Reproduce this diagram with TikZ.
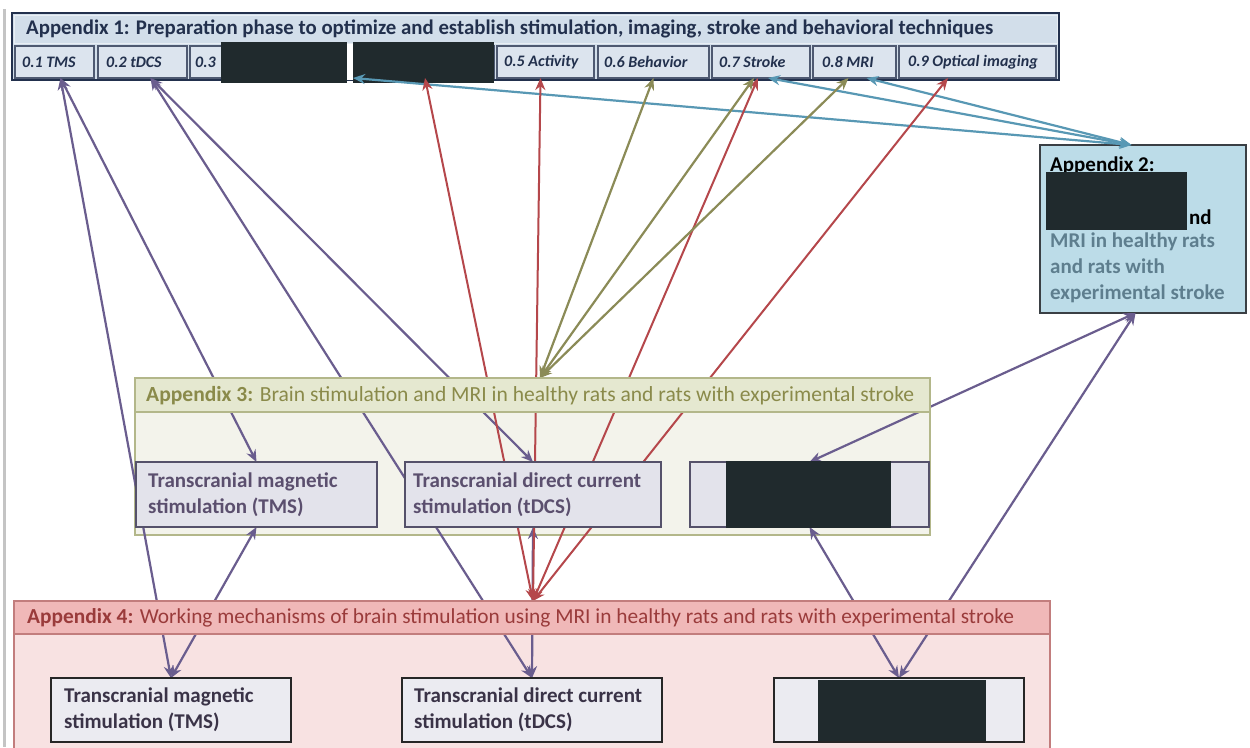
\documentclass[tikz,border=0pt]{standalone}
\usepackage{fontspec}
\setmainfont{Carlito}
\usepackage{graphicx}
\usetikzlibrary{arrows.meta}
\definecolor{navy}{HTML}{22304D}
\definecolor{aonefill}{HTML}{D2DEEA}
\definecolor{subfill}{HTML}{DCE4EE}
\definecolor{atwofill}{HTML}{BCDCE8}
\definecolor{atwodraw}{HTML}{3A3F44}
\definecolor{atwotext}{HTML}{5E7E8E}
\definecolor{athreeborder}{HTML}{B3B78A}
\definecolor{athreetitle}{HTML}{E5E8D0}
\definecolor{athreebody}{HTML}{F3F3EB}
\definecolor{athreetext}{HTML}{8A8A4A}
\definecolor{innerfill}{HTML}{E3E3EB}
\definecolor{innerdraw}{HTML}{55516A}
\definecolor{innertext}{HTML}{5B4F6E}
\definecolor{afourborder}{HTML}{C27D7D}
\definecolor{afourtitle}{HTML}{F0B8B8}
\definecolor{afourbody}{HTML}{F8E2E2}
\definecolor{afourtext}{HTML}{9A3B3B}
\definecolor{innerfourtext}{HTML}{3A3347}
\definecolor{redact}{HTML}{202A2D}
\definecolor{cpurple}{HTML}{6A5D8E}
\definecolor{cred}{HTML}{B5474B}
\definecolor{colive}{HTML}{8B8B57}
\definecolor{cteal}{HTML}{5898B4}
\definecolor{leftline}{HTML}{C4C4C4}
\newcommand\mkbox[6]{\node[rbox,#6,minimum width={(#4-#2)*1pt},minimum height={(#5-#3)*1pt}] (#1) at (#2,#3) {};}
\begin{document}
\begin{tikzpicture}[x=1pt,y=-1pt,
  rbox/.style={inner sep=0pt,outer sep=0pt,anchor=north west},
  >={Stealth[length=12pt,width=10pt]},
  parr/.style={draw=cpurple,line width=2.2pt,<->},
  rarr/.style={draw=cred,line width=2pt,<->},
  oarr/.style={draw=colive,line width=2.2pt,<->},
  tarr/.style={draw=cteal,line width=2.2pt,<->},
  subbox/.style={draw=navy!80,fill=subfill,line width=1.2pt},
  innerbox/.style={draw=innerdraw,fill=innerfill,line width=1.8pt},
  innerfourbox/.style={draw=black!85,fill=innerfill!70!white,line width=2pt},
  redbox/.style={fill=redact,draw=none},
  subtxt/.style={anchor=west,inner sep=0pt,text=navy,font=\bfseries\itshape\fontsize{16}{18}\selectfont},
  innertxt/.style={anchor=west,inner sep=0pt,align=left,font=\bfseries\fontsize{21}{26}\selectfont},
  twotxt/.style={inner sep=0pt,align=left,font=\bfseries\fontsize{21}{26}\selectfont}
]
\useasboundingbox (0,0) rectangle (1250,747);
\fill[white] (0,0) rectangle (1250,747);
\coordinate (lt) at (4.5,9);
\coordinate (lb) at (4.5,747);
\draw[leftline,line width=2.5pt] (lt) -- (lb);

% Appendix 1
\mkbox{a1}{12}{13}{1059}{80}{draw=navy,fill=aonefill,line width=2.5pt}
\mkbox{a1t}{14}{15}{1057}{43}{draw=white!50!aonefill,fill=aonefill,line width=1pt}
\node[anchor=west,inner sep=0pt,text=navy] (a1title) at (26,29)
  {\resizebox{967pt}{!}{\fontsize{18}{20}\selectfont\bfseries Appendix 1: Preparation phase to optimize and establish stimulation, imaging, stroke and behavioral techniques}};
\mkbox{s1}{15}{46}{94}{78}{subbox}
\mkbox{s2}{98}{46}{187}{78}{subbox}
\mkbox{s3}{190}{46}{349}{78}{subbox}
\mkbox{s4}{353}{46}{494}{78}{subbox}
\mkbox{s5}{497}{46}{594}{78}{subbox}
\mkbox{s6}{598}{46}{709}{78}{subbox}
\mkbox{s7}{712}{46}{810}{78}{subbox}
\mkbox{s8}{813}{46}{896}{78}{subbox}
\mkbox{s9}{899}{46}{1056}{78}{subbox}
\node[subtxt] (s1t) at (22,62) {0.1 TMS};
\node[subtxt] (s2t) at (106,62) {0.2 tDCS};
\node[subtxt] (s3t) at (195,62) {0.3};
\node[subtxt] (s5t) at (504,62) {0.5 Activity};
\node[subtxt] (s6t) at (604,62) {0.6 Behavior};
\node[subtxt] (s7t) at (719,62) {0.7 Stroke};
\node[subtxt] (s8t) at (822,62) {0.8 MRI};
\node[subtxt] (s9t) at (908,62) {0.9 Optical imaging};
\mkbox{k1}{221}{42}{347}{83}{redbox}
\mkbox{kw}{347}{44}{353}{80}{fill=white,draw=none}
\mkbox{k2}{353}{42}{494}{83}{redbox}

% Appendix 2
\mkbox{a2}{1040}{145}{1246}{313}{draw=atwodraw,fill=atwofill,line width=2pt}
\node[twotxt,anchor=west,text=black] (a2h) at (1050,166) {Appendix 2:};
\mkbox{k5}{1046}{172}{1187}{230}{redbox}
\node[twotxt,anchor=west,text=black] (a2nd) at (1189,217) {nd};
\node[twotxt,anchor=north west,text=atwotext] (a2b) at (1050,233) {MRI in healthy rats\\and rats with\\experimental stroke};

% Appendix 3 / 4 bodies
\mkbox{a3}{135}{378}{930}{535}{draw=athreeborder,fill=athreebody,line width=2pt}
\mkbox{a4}{14}{601}{1050}{760}{draw=afourborder,fill=afourbody,line width=2pt}

% inner boxes (nodes first, drawn later on top via redraw)
\mkbox{tms3}{136}{462}{377}{527}{}
\mkbox{tdcs3}{405}{462}{661}{527}{}
\mkbox{red3}{690}{462}{929}{527}{}
\mkbox{tms4}{51}{678}{291}{742}{}
\mkbox{tdcs4}{402}{678}{662}{742}{}
\mkbox{red4}{774}{678}{1024}{742}{}

% ports
\coordinate (p01) at ([xshift=6pt]s1.south);
\coordinate (p02) at ([xshift=8pt]s2.south);
\coordinate (p04r) at ([xshift=1.5pt]s4.south);
\coordinate (p04t) at (s4.south west);
\coordinate (p05) at ([xshift=-5pt]s5.south);
\coordinate (p06) at (s6.south);
\coordinate (p07o) at ([xshift=-7pt]s7.south);
\coordinate (p07r) at ([xshift=-3pt]s7.south);
\coordinate (p07t) at ([xshift=7pt]s7.south);
\coordinate (p08o) at ([xshift=-6pt]s8.south);
\coordinate (p08t) at ([xshift=12pt]s8.south);
\coordinate (p09) at ([xshift=-29.5pt]s9.south);
\coordinate (a2top) at ([xshift=-11.5pt]a2.north);
\coordinate (a2bot) at ([xshift=-7.5pt]a2.south);
\coordinate (a3in) at ([xshift=7.5pt]a3.north);
\coordinate (a4in) at ([xshift=1pt]a4.north);

% connectors
\draw[tarr] (p04t) -- (a2top);
\draw[tarr] (p07t) -- (a2top);
\draw[tarr] (p08t) -- (a2top);
\draw[parr] (p01) -- (tms4.north);
\draw[parr] (p01) -- (tms3.north);
\draw[parr] (tms3.south) -- (tms4.north);
\draw[parr] (p02) -- (tdcs4.north);
\draw[parr] (p02) -- (tdcs3.north);
\draw[parr] (tdcs3.south) -- (tdcs4.north);
\draw[parr] (a2bot) -- (red3.north);
\draw[parr] (a2bot) -- (red4.north);
\draw[parr] (red3.south) -- (red4.north);
\draw[rarr] (p04r) -- (a4in);
\draw[rarr] (p05) -- (a4in);
\draw[rarr] (p07r) -- (a4in);
\draw[rarr] (p09) -- (a4in);
\draw[oarr] (p06) -- (a3in);
\draw[oarr] (p07o) -- (a3in);
\draw[oarr] (p08o) -- (a3in);

% title rows
\mkbox{a3t}{135}{378}{930}{412}{draw=athreeborder,fill=athreetitle,line width=1.5pt}
\node[anchor=west,inner sep=0pt,text=athreetext] (a3title) at (146,396)
  {\resizebox{768pt}{!}{\fontsize{19}{22}\selectfont\textbf{Appendix 3:} Brain stimulation and MRI in healthy rats and rats with experimental stroke}};
\mkbox{a4t}{14}{601}{1050}{634}{draw=afourborder,fill=afourtitle,line width=1.5pt}
\node[anchor=west,inner sep=0pt,text=afourtext] (a4title) at (27,618)
  {\resizebox{987pt}{!}{\fontsize{19}{22}\selectfont\textbf{Appendix 4:} Working mechanisms of brain stimulation using MRI in healthy rats and rats with experimental stroke}};

% inner boxes drawn
\draw[innerbox] (tms3.north west) rectangle (tms3.south east);
\draw[innerbox] (tdcs3.north west) rectangle (tdcs3.south east);
\draw[innerbox] (red3.north west) rectangle (red3.south east);
\draw[innerfourbox] (tms4.north west) rectangle (tms4.south east);
\draw[innerfourbox] (tdcs4.north west) rectangle (tdcs4.south east);
\draw[innerfourbox] (red4.north west) rectangle (red4.south east);
\node[innertxt,text=innertext] (tms3t) at ([xshift=12pt]tms3.west) {Transcranial magnetic\\stimulation (TMS)};
\node[innertxt,text=innertext] (tdcs3t) at ([xshift=8pt]tdcs3.west) {Transcranial direct current\\stimulation (tDCS)};
\node[innertxt,text=innerfourtext] (tms4t) at ([xshift=13pt]tms4.west) {Transcranial magnetic\\stimulation (TMS)};
\node[innertxt,text=innerfourtext] (tdcs4t) at ([xshift=12pt]tdcs4.west) {Transcranial direct current\\stimulation (tDCS)};
\mkbox{k3}{726}{461}{891}{528}{redbox}
\mkbox{k4}{818}{680}{986}{741}{redbox}
\end{tikzpicture}
\end{document}
